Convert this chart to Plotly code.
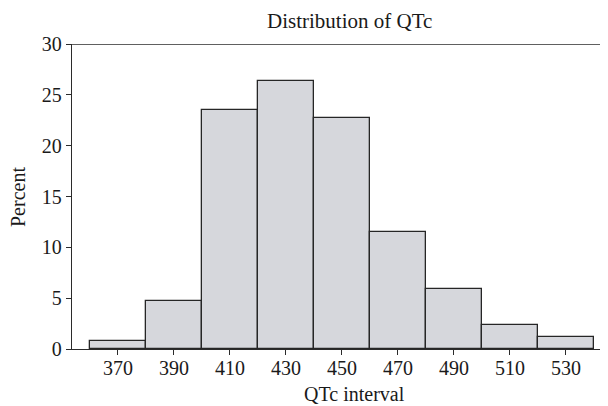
import plotly.graph_objects as go

bin_centers = [370, 390, 410, 430, 450, 470, 490, 510, 530]
percent = [0.75, 4.75, 23.5, 26.4, 22.75, 11.5, 5.9, 2.35, 1.14]
x_ticks = [370, 390, 410, 430, 450, 470, 490, 510, 530]
y_ticks = [0, 5, 10, 15, 20, 25, 30]

font_family = "Liberation Serif, Times New Roman, serif"
txt = "#1a1a1a"
axc = "#2b2b2b"

# The page body has an 8px margin, so the figure is drawn 8px in from the
# top-left corner; size it so it ends exactly at the 608x406 window edge.
OFF = 8
W, H = 608 - OFF, 406 - OFF
L, R, T, B = 72 - OFF, 0, 44 - OFF, 57
pw, ph = W - L - R, H - T - B

fig = go.Figure()
fig.add_trace(go.Bar(
    x=bin_centers, y=percent, width=20,
    marker=dict(color="#d6d7dc", line=dict(color="#262626", width=1.3)),
    hoverinfo="x+y",
))

fig.update_layout(
    width=W, height=H,
    margin=dict(l=L, r=R, t=T, b=B, autoexpand=False),
    paper_bgcolor="white", plot_bgcolor="white",
    showlegend=False,
    bargap=0,
    font=dict(family=font_family, size=20, color=txt),
)
fig.update_xaxes(
    range=[353.6, 545], tickvals=x_ticks, ticks="outside", ticklen=5,
    tickcolor=axc, tickwidth=1.3, showline=True, linecolor=axc, linewidth=1.3,
    showgrid=False, zeroline=False, automargin=False, ticklabelstandoff=-4,
    tickfont=dict(size=20, color=txt, family=font_family),
)
fig.update_yaxes(
    range=[0, 30], tickvals=y_ticks, ticks="outside", ticklen=5,
    tickcolor=axc, tickwidth=1.3, showline=True, linecolor=axc, linewidth=1.3,
    showgrid=False, zeroline=False, automargin=False,
    tickfont=dict(size=20, color=txt, family=font_family),
)
fig.add_shape(type="line", xref="paper", yref="y", x0=0, x1=1, y0=30, y1=30,
              line=dict(color=axc, width=1.3))

# positions below are screen pixels of the 608x406 window
def px(x):
    return (x - OFF - L) / pw

def py(y):
    return (H - B - (y - OFF)) / ph

fig.add_annotation(text="Distribution of QTc", xref="paper", yref="paper",
                   x=px(349.5), y=py(21), xanchor="center", yanchor="middle",
                   showarrow=False, font=dict(size=21, color=txt, family=font_family))
fig.add_annotation(text="QTc interval", xref="paper", yref="paper",
                   x=px(354), y=py(394), xanchor="center", yanchor="middle",
                   showarrow=False, font=dict(size=20, color=txt, family=font_family))
fig.add_annotation(text="Percent", xref="paper", yref="paper",
                   x=px(18), y=py(197), xanchor="center", yanchor="middle",
                   textangle=-90, showarrow=False,
                   font=dict(size=20, color=txt, family=font_family))

fig.write_html("out.html")
